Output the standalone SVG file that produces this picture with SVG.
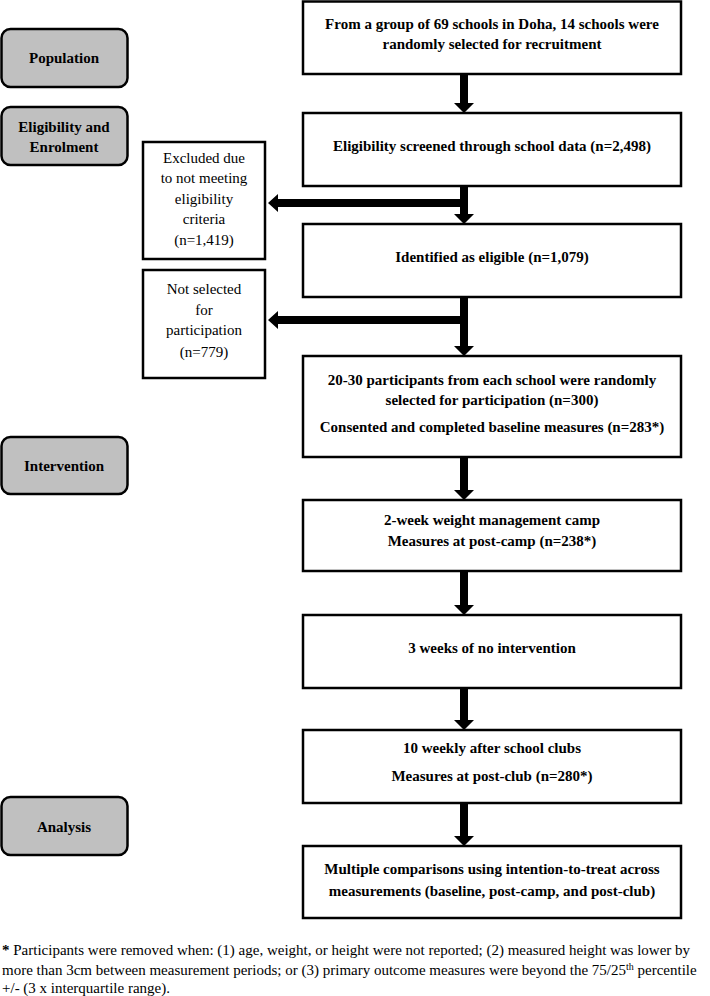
<svg xmlns="http://www.w3.org/2000/svg" width="710" height="996" viewBox="0 0 710 996">
<style>
.box{fill:#fff;stroke:#000;stroke-width:2.5}
.phase{fill:#c0c0c0;stroke:#000;stroke-width:2.5}
text{font-family:'Liberation Serif','DejaVu Serif',serif;fill:#000}
.b{font-weight:bold;font-size:15px;text-anchor:middle}
.r{font-size:15px;text-anchor:middle}
.fn{font-size:15px}
.arrow{fill:#000}
</style>
<rect width="710" height="996" fill="#fff"/>
<g id="phase-population"><rect class="phase" x="1.5" y="29" width="126" height="58" rx="9"/><text class="b" x="64" y="63">Population</text></g>
<g id="phase-eligibility"><rect class="phase" x="1.5" y="107" width="126" height="58" rx="9"/><text class="b" x="64" y="132">Eligibility and</text><text class="b" x="64" y="152">Enrolment</text></g>
<g id="phase-intervention"><rect class="phase" x="1.5" y="437" width="126" height="57" rx="9"/><text class="b" x="64" y="471">Intervention</text></g>
<g id="phase-analysis"><rect class="phase" x="1.5" y="797" width="126" height="58" rx="9"/><text class="b" x="64" y="832">Analysis</text></g>

<g id="n1"><rect class="box" x="303" y="1.5" width="378" height="72.5"/><text class="b" x="492" y="28.5">From a group of 69 schools in Doha, 14 schools were</text><text class="b" x="492" y="48.5">randomly selected for recruitment</text></g>
<g id="n2"><rect class="box" x="303" y="113" width="378" height="73"/><text class="b" x="492" y="151">Eligibility screened through school data (n=2,498)</text></g>
<g id="n3"><rect class="box" x="303" y="224" width="378" height="73"/><text class="b" x="492" y="262">Identified as eligible (n=1,079)</text></g>
<g id="n4"><rect class="box" x="303" y="356" width="378" height="101"/><text class="b" x="492" y="385">20-30 participants from each school were randomly</text><text class="b" x="492" y="405">selected for participation (n=300)</text><text class="b" x="492" y="432">Consented and completed baseline measures (n=283*)</text></g>
<g id="n5"><rect class="box" x="303" y="500" width="378" height="71"/><text class="b" x="492" y="525">2-week weight management camp</text><text class="b" x="492" y="546">Measures at post-camp (n=238*)</text></g>
<g id="n6"><rect class="box" x="303" y="615" width="378" height="73"/><text class="b" x="492" y="653">3 weeks of no intervention</text></g>
<g id="n7"><rect class="box" x="303" y="730" width="378" height="73"/><text class="b" x="492" y="753">10 weekly after school clubs</text><text class="b" x="492" y="781">Measures at post-club (n=280*)</text></g>
<g id="n8"><rect class="box" x="303" y="846" width="378" height="72"/><text class="b" x="492" y="874">Multiple comparisons using intention-to-treat across</text><text class="b" x="492" y="896">measurements (baseline, post-camp, and post-club)</text></g>

<g id="ex1"><rect class="box" x="143" y="142" width="122" height="117"/><text class="r" x="204" y="163">Excluded due</text><text class="r" x="204" y="183">to not meeting</text><text class="r" x="204" y="204">eligibility</text><text class="r" x="204" y="224">criteria</text><text class="r" x="204" y="245">(n=1,419)</text></g>
<g id="ex2"><rect class="box" x="143" y="270" width="122" height="108"/><text class="r" x="204" y="294">Not selected</text><text class="r" x="204" y="315">for</text><text class="r" x="204" y="335">participation</text><text class="r" x="204" y="357">(n=779)</text></g>

<g id="connectors">
<path class="arrow" d="M460,74 H468 V103 H474 L464,113 L454,103 H460 Z"/>
<path class="arrow" d="M460,186 H468 V214 H474 L464,224 L454,214 H460 Z"/>
<path class="arrow" d="M468,199 V207 H278 V212 L268,203 L278,194 V199 Z"/>
<path class="arrow" d="M460,297 H468 V346 H474 L464,356 L454,346 H460 Z"/>
<path class="arrow" d="M468,316 V324 H278 V329 L268,320 L278,311 V316 Z"/>
<path class="arrow" d="M460,457 H468 V490 H474 L464,500 L454,490 H460 Z"/>
<path class="arrow" d="M460,571 H468 V605 H474 L464,615 L454,605 H460 Z"/>
<path class="arrow" d="M460,688 H468 V720 H474 L464,730 L454,720 H460 Z"/>
<path class="arrow" d="M460,803 H468 V836 H474 L464,846 L454,836 H460 Z"/>
</g>

<g id="footnote">
<text class="fn" x="2" y="955"><tspan font-weight="bold">*</tspan> Participants were removed when: (1) age, weight, or height were not reported; (2) measured height was lower by</text>
<text class="fn" x="2" y="975">more than 3cm between measurement periods; or (3) primary outcome measures were beyond the 75/25<tspan font-size="10" dy="-5">th</tspan><tspan dy="5"> percentile</tspan></text>
<text class="fn" x="2" y="993">+/- (3 x interquartile range).</text>
</g>
</svg>
